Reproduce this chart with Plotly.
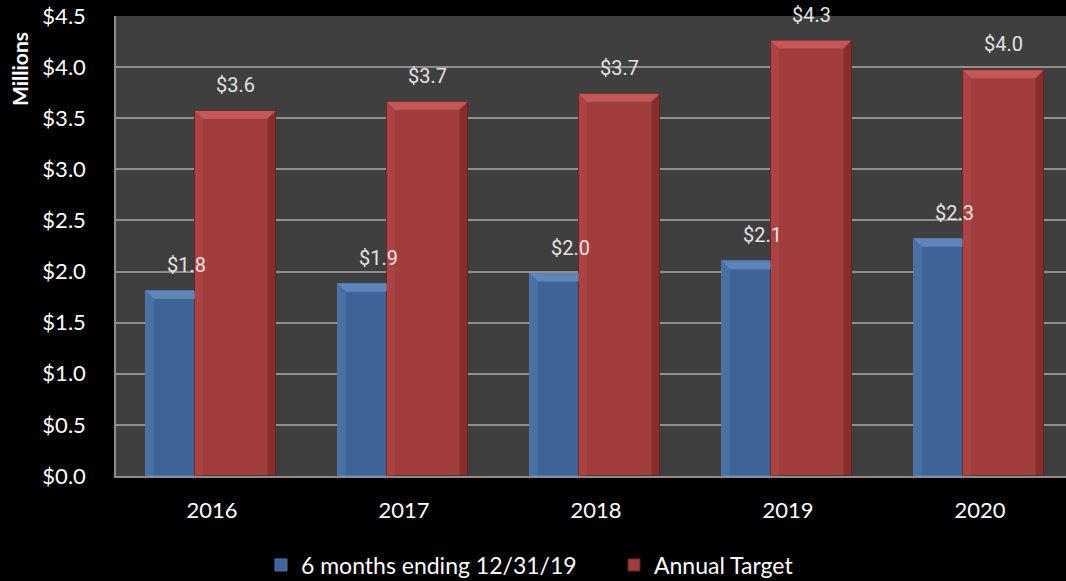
import plotly.graph_objects as go

# Chart data
years = ["2016", "2017", "2018", "2019", "2020"]
six_months = [1.81, 1.88, 1.98, 2.10, 2.32]
annual_target = [3.57, 3.66, 3.74, 4.26, 3.97]
series_names = ["6 months ending 12/31/19", "Annual Target"]

BLUE = "#3D6598"
RED = "#A23D3D"
BAR_W = 0.42
BLUE_OFF = -0.344
RED_OFF = -0.089
Y_MAX = 4.5
X_RANGE = [-0.5, 4.448]

# bevel size in axis units (~8 px each way)
BEV_X = 0.042
BEV_Y = 0.078

fig = go.Figure()
fig.add_trace(go.Bar(
    x=years, y=six_months, name=series_names[0],
    width=BAR_W, offset=BLUE_OFF,
    marker=dict(color=BLUE, line=dict(color="#4C77AD", width=1)),
))
fig.add_trace(go.Bar(
    x=years, y=annual_target, name=series_names[1],
    width=BAR_W, offset=RED_OFF,
    marker=dict(color=RED, line=dict(color="#6E2626", width=1)),
))


def face(path, col):
    return dict(type="path", xref="x", yref="y", layer="above", path=path,
                fillcolor=col, line=dict(width=0))


shapes = []
# blue bars: only the part left of the red bar is visible
for i, b in enumerate(six_months):
    x0 = i + BLUE_OFF
    xc = i + RED_OFF
    shapes.append(face(f"M {x0},{b} L {xc},{b} L {xc},{b - BEV_Y} L {x0 + BEV_X},{b - BEV_Y} Z",
                       "rgba(120,160,215,0.55)"))
    shapes.append(face(f"M {x0},{b} L {x0 + BEV_X},{b - BEV_Y} L {x0 + BEV_X},0 L {x0},0 Z",
                       "rgba(95,135,190,0.35)"))
# red bars: top, left and right faces
for i, r in enumerate(annual_target):
    x0 = i + RED_OFF
    x1 = x0 + BAR_W
    shapes.append(face(f"M {x0},{r} L {x1},{r} L {x1 - BEV_X},{r - BEV_Y} L {x0 + BEV_X},{r - BEV_Y} Z",
                       "rgba(225,110,110,0.55)"))
    shapes.append(face(f"M {x0},{r} L {x0 + BEV_X},{r - BEV_Y} L {x0 + BEV_X},0 L {x0},0 Z",
                       "rgba(190,85,85,0.30)"))
    shapes.append(face(f"M {x1},{r} L {x1 - BEV_X},{r - BEV_Y} L {x1 - BEV_X},0 L {x1},0 Z",
                       "rgba(90,25,25,0.40)"))

label_font = dict(family="Roboto, sans-serif", size=20, color="#E2E2E2")
annotations = []
for i, (b, r) in enumerate(zip(six_months, annual_target)):
    annotations.append(dict(x=i + BLUE_OFF + BAR_W / 2, y=b, xref="x", yref="y",
                            text=f"${b:.1f}", showarrow=False, yshift=26, font=label_font))
    annotations.append(dict(x=i + RED_OFF + BAR_W / 2, y=r, xref="x", yref="y",
                            text=f"${r:.1f}", showarrow=False, yshift=26, font=label_font))

annotations.append(dict(x=-0.101, y=0.885, xref="paper", yref="paper", xanchor="center",
                        yanchor="middle", text="<b>Millions</b>", textangle=-90, showarrow=False,
                        font=dict(family="Lato, sans-serif", size=21, color="white")))

fig.update_layout(
    width=1066, height=581,
    margin=dict(l=116, r=0, t=16, b=105, autoexpand=False),
    paper_bgcolor="black",
    plot_bgcolor="#3F3F3F",
    barmode="overlay",
    bargap=0,
    font=dict(family="Lato, sans-serif", color="white", size=22),
    showlegend=True,
    legend=dict(orientation="h", x=0.1526, xanchor="left", y=-0.1935, yanchor="middle",
                font=dict(size=23, color="white"), entrywidth=308, entrywidthmode="pixels",
                bgcolor="rgba(0,0,0,0)", traceorder="normal"),
    annotations=annotations,
    shapes=shapes,
)
fig.update_yaxes(
    range=[0, Y_MAX], dtick=0.5, tickformat="$.1f",
    showgrid=True, gridcolor="#8E8E8E", gridwidth=1.5,
    showline=True, linecolor="#8E8E8E", linewidth=1.5,
    ticks="outside", ticklen=24, tickcolor="rgba(0,0,0,0)",
    tickfont=dict(size=22, color="white"),
    zeroline=False,
)
fig.update_xaxes(
    type="category", range=X_RANGE,
    showline=True, linecolor="#8E8E8E", linewidth=1.5,
    ticks="outside", ticklen=14, tickcolor="rgba(0,0,0,0)",
    tickfont=dict(size=22, color="white"),
    showgrid=False,
)

fig.write_html("out.html")
